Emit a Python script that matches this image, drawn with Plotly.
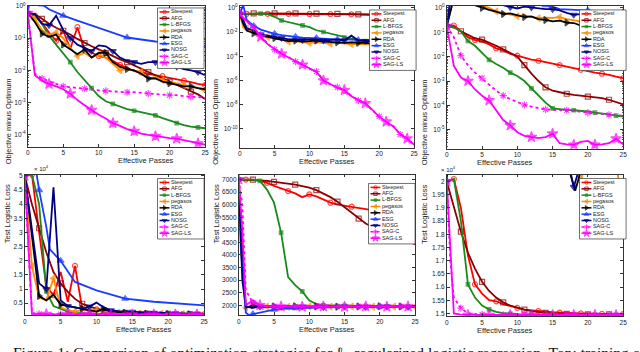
import plotly.graph_objects as go

W, H = 640, 352

NAMES = ["Steepest", "AFG", "L-BFGS", "pegasos", "RDA", "ESG", "NOSG", "SAG-C", "SAG-LS"]
COLORS = {"Steepest": "#ff0000", "AFG": "#8b0000", "L-BFGS": "#1a8a1a", "pegasos": "#ff8c00",
          "RDA": "#000000", "ESG": "#1a3cff", "NOSG": "#000080", "SAG-C": "#ff00ff", "SAG-LS": "#ff00ff"}
SYMBOLS = {"Steepest": "circle-open", "AFG": "square-open", "L-BFGS": "square", "pegasos": "triangle-left",
           "RDA": "triangle-right", "ESG": "triangle-up", "NOSG": "triangle-down", "SAG-C": "asterisk-open",
           "SAG-LS": "star"}
MSIZE = {"Steepest": 5, "AFG": 5, "L-BFGS": 3.5, "pegasos": 6, "RDA": 6, "ESG": 6, "NOSG": 6,
         "SAG-C": 6, "SAG-LS": 8}
# which whole passes carry a marker (every third one, staggered per method)
MARK_OFFSET = {"Steepest": 1, "AFG": 2, "L-BFGS": 0, "pegasos": 1, "RDA": 2, "ESG": 2, "NOSG": 0,
               "SAG-C": 2, "SAG-LS": 0}

PASSES = list(range(26))
PASSES_H = [0, 0.5] + list(range(1, 26))

# ---- top row: objective minus optimum (log scale) ----
TOP_LEFT = {
    "Steepest": (PASSES, [0.60, 0.50, 0.30, 0.15, 0.083, 0.17, 0.047, 0.22, 0.045, 0.035, 0.028, 0.025, 0.020,
                          0.015, 0.012, 0.0095, 0.0087, 0.0079, 0.0072, 0.0066, 0.0060, 0.0054, 0.0048, 0.0043,
                          0.0038, 0.0035]),
    "AFG": (PASSES, [0.60, 0.56, 0.40, 0.28, 0.21, 0.17, 0.13, 0.095, 0.071, 0.056, 0.045, 0.035, 0.028, 0.022,
                     0.018, 0.014, 0.011, 0.0089, 0.0071, 0.0056, 0.0045, 0.0035, 0.0028, 0.0022, 0.0018, 0.0013]),
    "L-BFGS": (PASSES, [0.60, 0.50, 0.28, 0.12, 0.063, 0.035, 0.018, 0.0089, 0.0050, 0.0028, 0.0016, 0.0011,
                        0.00091, 0.00076, 0.00063, 0.00056, 0.00050, 0.00045, 0.00040, 0.00033, 0.00028, 0.00023,
                        0.00020, 0.00018, 0.00017, 0.00016]),
    "pegasos": (PASSES, [0.60, 0.40, 0.18, 0.13, 0.15, 0.10, 0.050, 0.028, 0.035, 0.025, 0.032, 0.025, 0.016,
                         0.010, 0.011, 0.010, 0.0089, 0.0056, 0.0063, 0.0050, 0.0045, 0.0040, 0.0035, 0.0032,
                         0.0028, 0.0024]),
    "RDA": (PASSES, [0.60, 0.32, 0.14, 0.11, 0.13, 0.063, 0.045, 0.032, 0.045, 0.025, 0.035, 0.035, 0.018,
                     0.013, 0.011, 0.010, 0.0079, 0.0056, 0.0056, 0.0045, 0.0040, 0.0035, 0.0032, 0.0032, 0.0028,
                     0.0026]),
    "ESG": ([0, 0.5, 1, 2, 3, 5, 7, 10, 14, 18, 22, 25],
            [0.60, 3.2, 2.0, 1.12, 0.79, 0.50, 0.35, 0.21, 0.105, 0.079, 0.066, 0.055]),
    "NOSG": (PASSES, [0.60, 0.56, 0.28, 0.25, 0.50, 0.18, 0.10, 0.063, 0.050, 0.040, 0.060, 0.056, 0.040, 0.025,
                      0.020, 0.018, 0.016, 0.018, 0.018, 0.020, 0.018, 0.013, 0.011, 0.010, 0.0089, 0.0071]),
    "SAG-C": (PASSES, [0.60, 0.0079, 0.0056, 0.0045, 0.0038, 0.0032, 0.0030, 0.0028, 0.0027, 0.0025, 0.0024,
                       0.0023, 0.0022, 0.0022, 0.0021, 0.0021, 0.0020, 0.0019, 0.0019, 0.0018, 0.0017, 0.0017,
                       0.0016, 0.0015, 0.0015, 0.0014]),
    "SAG-LS": (PASSES, [0.60, 0.0071, 0.0048, 0.0038, 0.0032, 0.0026, 0.0019, 0.0012, 0.00083, 0.00059,
                        0.00042, 0.00032, 0.00023, 0.00019, 0.00015, 0.00013, 0.00011, 0.00010, 9.1e-5, 8.5e-5,
                        7.9e-5, 7.6e-5, 6.8e-5, 6.0e-5, 5.4e-5, 5.0e-5]),
}

TOP_MID = {
    "Steepest": (PASSES, [0.32, 0.32, 0.32, 0.32, 0.32, 0.32, 0.32, 0.32, 0.31, 0.31, 0.31, 0.31, 0.30, 0.30,
                          0.30, 0.29, 0.29, 0.29, 0.28, 0.28, 0.28, 0.27, 0.27, 0.27, 0.26, 0.26]),
    "AFG": (PASSES, [0.32, 0.34, 0.34, 0.34, 0.34, 0.34, 0.34, 0.34, 0.34, 0.33, 0.33, 0.33, 0.33, 0.32, 0.32,
                     0.31, 0.30, 0.29, 0.28, 0.27, 0.26, 0.25, 0.24, 0.23, 0.22, 0.21]),
    "L-BFGS": (PASSES, [0.32, 0.33, 0.33, 0.33, 0.30, 0.18, 0.089, 0.063, 0.050, 0.035, 0.025, 0.014, 0.010,
                        0.0079, 0.0056, 0.0035, 0.0028, 0.0022, 0.0018, 0.0016, 0.0014, 0.0013, 0.0011, 0.0010,
                        0.00089, 0.00079]),
    "pegasos": (PASSES_H, [0.32, 0.025, 0.020, 0.011, 0.0063, 0.0040, 0.0028, 0.0022, 0.0016, 0.0018, 0.0014,
                           0.0013, 0.0014, 0.0013, 0.0011, 0.0013, 0.0011, 0.0010, 0.0010, 0.0010, 0.00089,
                           0.00089, 0.00089, 0.00079, 0.00079, 0.00079, 0.00079]),
    "RDA": (PASSES_H, [0.32, 0.050, 0.013, 0.0079, 0.0050, 0.0040, 0.0032, 0.0025, 0.0018, 0.0020, 0.0016,
                       0.0018, 0.0020, 0.0016, 0.0016, 0.0014, 0.0013, 0.0014, 0.0013, 0.0013, 0.0011, 0.0011,
                       0.0011, 0.0010, 0.0010, 0.0010, 0.0010]),
    "ESG": (PASSES_H, [0.32, 1.6, 0.10, 0.032, 0.016, 0.010, 0.0071, 0.0056, 0.0045, 0.0040, 0.0035, 0.0032,
                       0.0032, 0.0028, 0.0028, 0.0025, 0.0025, 0.0024, 0.0022, 0.0022, 0.0021, 0.0020, 0.0020,
                       0.0019, 0.0018, 0.0017, 0.0016]),
    "NOSG": (PASSES_H, [0.32, 0.10, 0.020, 0.014, 0.0063, 0.0050, 0.0040, 0.0032, 0.0025, 0.0025, 0.0022,
                        0.0025, 0.0025, 0.0020, 0.0022, 0.0025, 0.0020, 0.0050, 0.0020, 0.0018, 0.0018, 0.0018,
                        0.0018, 0.0016, 0.0016, 0.0016, 0.0016]),
    "SAG-C": (PASSES, [0.32, 0.071, 0.022, 0.0045, 1.1e-3, 3.5e-4, 1.8e-4, 8.5e-5, 3.6e-5, 2.2e-5, 9.0e-6,
                       5.5e-6, 1.1e-6, 4.5e-7, 2.8e-7, 1.5e-7, 5.5e-8, 2.2e-8, 1.4e-8, 3.5e-9, 1.1e-9, 3.6e-10,
                       1.8e-10, 3.5e-11, 1.8e-11, 4.5e-12]),
    "SAG-LS": (PASSES, [0.32, 0.079, 0.025, 0.0040, 1.0e-3, 4.0e-4, 1.6e-4, 7.9e-5, 4.0e-5, 2.0e-5, 1.0e-5,
                        5.0e-6, 1.0e-6, 5.0e-7, 2.5e-7, 1.6e-7, 5.0e-8, 2.5e-8, 1.3e-8, 4.0e-9, 1.0e-9, 4.0e-10,
                        1.6e-10, 4.0e-11, 1.6e-11, 5.0e-12]),
}

TOP_RIGHT = {
    "Steepest": (PASSES, [0.18, 0.19, 0.11, 0.063, 0.048, 0.042, 0.032, 0.022, 0.018, 0.013, 0.011, 0.0089,
                          0.0076, 0.0068, 0.0059, 0.0050, 0.0045, 0.0040, 0.0034, 0.0029, 0.0025, 0.0022, 0.0020,
                          0.0018, 0.0015, 0.0013]),
    "AFG": (PASSES, [0.18, 0.16, 0.11, 0.079, 0.056, 0.050, 0.038, 0.028, 0.020, 0.014, 0.010, 0.0045, 0.0020,
                     0.0010, 0.00055, 0.00040, 0.00034, 0.00030, 0.00027, 0.00025, 0.00023, 0.00022, 0.00020,
                     0.00017, 0.00014, 0.00011]),
    "L-BFGS": (PASSES, [0.18, 0.16, 0.11, 0.044, 0.028, 0.014, 0.0074, 0.0050, 0.0035, 0.0022, 0.0016, 0.0010,
                        0.00050, 0.00025, 0.00013, 7.6e-5, 6.9e-5, 6.6e-5, 6.3e-5, 6.0e-5, 5.6e-5, 5.0e-5, 4.7e-5,
                        4.3e-5, 3.8e-5, 3.5e-5]),
    "pegasos": ([0, 1, 3, 5, 6, 7, 8, 9, 10, 11, 12, 13, 14, 15, 16, 17, 18, 19, 20, 21, 22, 23, 24, 25],
                [0.18, 3.2, 2.0, 1.26, 1.0, 0.72, 0.63, 0.52, 0.46, 0.50, 0.42, 0.38, 0.40, 0.39, 0.42, 0.35,
                 0.32, 0.28, 0.25, 0.22, 0.20, 0.16, 0.13, 0.11]),
    "RDA": ([0, 1, 3, 5, 6, 7, 8, 9, 10, 11, 12, 13, 14, 15, 16, 17, 18, 19, 20, 21, 22, 23, 24, 25],
            [0.18, 2.5, 1.6, 1.0, 0.83, 0.71, 0.56, 0.60, 0.50, 0.42, 0.45, 0.35, 0.32, 0.28, 0.30, 0.25, 0.24,
             0.19, 0.18, 0.20, 0.19, 0.18, 0.17, 0.16]),
    "ESG": ([0, 0.5, 2, 5, 10, 14, 15, 16, 18, 20, 22, 24, 25],
            [0.18, 2.0, 4.0, 3.2, 2.0, 1.3, 1.12, 0.89, 0.83, 0.79, 0.76, 0.69, 0.63]),
    "NOSG": ([0, 0.5, 2, 5, 8, 9, 10, 11, 12, 13, 14, 15, 16, 17, 18, 19, 20, 21, 22, 23, 24, 25],
             [0.18, 2.0, 3.2, 2.0, 1.26, 1.07, 0.95, 1.12, 1.05, 0.93, 0.89, 0.89, 0.79, 0.63, 0.52, 0.56, 0.60,
              0.52, 0.50, 0.48, 0.40, 0.33]),
    "SAG-C": (PASSES, [0.18, 0.063, 0.011, 0.0045, 0.0022, 0.0013, 7.1e-4, 4.0e-4, 2.5e-4, 1.8e-4, 1.35e-4,
                       1.05e-4, 8.9e-5, 7.6e-5, 6.8e-5, 6.6e-5, 6.3e-5, 6.3e-5, 6.0e-5, 5.6e-5, 5.0e-5, 4.8e-5,
                       4.5e-5, 4.1e-5, 4.0e-5, 3.8e-5]),
    "SAG-LS": (PASSES, [0.18, 0.0042, 0.0014, 0.0010, 4.5e-4, 2.5e-4, 1.6e-4, 6.3e-5, 2.5e-5, 1.5e-5, 7.9e-6,
                        5.6e-6, 5.0e-6, 4.5e-6, 5.0e-6, 6.9e-6, 2.8e-6, 2.5e-6, 2.4e-6, 3.2e-6, 3.5e-6, 2.4e-6,
                        2.5e-6, 2.8e-6, 4.3e-6, 2.5e-6]),
}

# ---- bottom row: test logistic loss ----
BOT_LEFT = {  # x 10^4
    "Steepest": (PASSES, [5.0, 5.05, 3.0, 1.1, 0.78, 1.6, 0.55, 1.82, 0.32, 0.22, 0.28, 0.20, 0.17, 0.15, 0.14,
                          0.13, 0.13, 0.12, 0.12, 0.12, 0.11, 0.11, 0.11, 0.11, 0.10, 0.10]),
    "AFG": (PASSES, [5.0, 4.0, 3.15, 2.3, 1.6, 1.2, 0.9, 0.65, 0.48, 0.38, 0.30, 0.25, 0.20, 0.18, 0.16, 0.15,
                     0.14, 0.13, 0.13, 0.12, 0.12, 0.12, 0.12, 0.11, 0.11, 0.11]),
    "L-BFGS": (PASSES, [5.0, 5.05, 4.0, 0.92, 0.40, 0.30, 0.20, 0.16, 0.14, 0.13, 0.12, 0.12, 0.12, 0.11, 0.11,
                        0.11, 0.11, 0.11, 0.11, 0.10, 0.10, 0.10, 0.10, 0.10, 0.10, 0.10]),
    "pegasos": (PASSES, [5.0, 1.8, 0.70, 0.60, 1.38, 0.35, 0.25, 0.20, 0.25, 0.30, 0.25, 0.20, 0.18, 0.16, 0.15,
                         0.14, 0.13, 0.13, 0.12, 0.12, 0.12, 0.12, 0.11, 0.11, 0.11, 0.11]),
    "RDA": (PASSES, [5.0, 2.8, 0.75, 0.60, 0.80, 0.45, 0.40, 0.35, 0.30, 0.25, 0.20, 0.30, 0.20, 0.18, 0.16,
                     0.15, 0.14, 0.13, 0.13, 0.12, 0.12, 0.12, 0.11, 0.11, 0.11, 0.11]),
    "ESG": ([0, 1, 1.5, 2, 3, 3.5, 5, 7, 10, 14, 18, 22, 25],
            [5.0, 5.6, 5.3, 4.5, 3.2, 2.4, 2.0, 1.25, 0.95, 0.66, 0.55, 0.47, 0.42]),
    "NOSG": (PASSES, [5.0, 3.05, 1.2, 1.0, 4.6, 0.60, 0.40, 0.35, 0.30, 0.38, 0.52, 0.35, 0.25, 0.22, 0.20, 0.19,
                      0.18, 0.17, 0.16, 0.15, 0.15, 0.14, 0.14, 0.13, 0.13, 0.12]),
    "SAG-C": (PASSES, [5.0, 0.15, 0.12, 0.11, 0.11, 0.11, 0.11, 0.10, 0.10, 0.10, 0.10, 0.10, 0.10, 0.10, 0.10,
                       0.10, 0.10, 0.10, 0.10, 0.10, 0.10, 0.10, 0.10, 0.10, 0.10, 0.10]),
    "SAG-LS": (PASSES, [5.0, 0.12, 0.11, 0.11, 0.10, 0.10, 0.10, 0.10, 0.10, 0.10, 0.10, 0.10, 0.10, 0.10, 0.10,
                        0.10, 0.10, 0.10, 0.10, 0.10, 0.10, 0.10, 0.10, 0.10, 0.10, 0.10]),
}

BOT_MID = {
    "Steepest": (PASSES, [7000, 7000, 7000, 6950, 6870, 6750, 6650, 6540, 6450, 6300, 6410, 6330, 6200, 6080,
                          6000, 5950, 5920, 5870, 5820, 5780, 5750, 5720, 5690, 5650, 5600, 5490]),
    "AFG": (PASSES, [7000, 7000, 7000, 6970, 6950, 6910, 6880, 6850, 6800, 6740, 6680, 6580, 6450, 6300, 6120,
                     5900, 5680, 5450, 5250, 5100, 4950, 4850, 4750, 4650, 4550, 4430]),
    "L-BFGS": (PASSES, [7000, 7000, 7000, 6950, 6600, 6080, 4890, 3120, 2800, 2550, 2190, 2050, 2000, 1990, 1980,
                        1980, 1970, 1970, 1970, 1970, 1960, 1960, 1960, 1960, 1960, 1960]),
    "pegasos": (PASSES_H, [7000, 4500, 1900, 1950, 1940, 1950, 1940, 1950, 1940, 1950, 1940, 1950, 1940, 1950,
                           1940, 1950, 1940, 1950, 1940, 1950, 1940, 1950, 1940, 1950, 1940, 1950, 1940]),
    "RDA": (PASSES_H, [7000, 4000, 1900, 2000, 1950, 1960, 1950, 1940, 1950, 1960, 1950, 1940, 1950, 1960, 1950,
                       1940, 1950, 1960, 1950, 1940, 1950, 1960, 1950, 1940, 1950, 1960, 1950]),
    "ESG": ([0, 0.3, 1, 1.5, 2, 3, 4, 5, 6, 8, 10, 12, 15, 20, 25],
            [7000, 4240, 1700, 1600, 1650, 1720, 1780, 1830, 1860, 1890, 1910, 1920, 1930, 1940, 1950]),
    "NOSG": (PASSES_H, [7000, 3000, 1950, 1900, 1950, 1930, 1950, 1930, 1950, 1930, 1950, 1930, 1950, 1930, 1950,
                        1930, 1950, 1930, 1950, 1930, 1950, 1930, 1950, 1930, 1950, 1930, 1950]),
    "SAG-C": (PASSES_H, [7000, 6000, 2600, 2100, 2000, 1950, 1960, 1950, 1960, 1950, 1960, 1950, 1960, 1950,
                         1960, 1950, 1960, 1950, 1960, 1950, 1960, 1950, 1960, 1950, 1960, 1950, 1960]),
    "SAG-LS": (PASSES_H, [7000, 5000, 2000, 2200, 2000, 1950, 1940, 1950, 1940, 1950, 1940, 1950, 1940, 1950,
                          1940, 1950, 1940, 1950, 1940, 1950, 1940, 1950, 1940, 1950, 1940, 1950, 1940]),
}

BOT_RIGHT = {  # x 10^4
    "Steepest": (PASSES, [2.0, 2.01, 1.9, 1.72, 1.61, 1.575, 1.55, 1.546, 1.535, 1.527, 1.521, 1.514, 1.511,
                          1.509, 1.507, 1.505, 1.503, 1.502, 1.501, 1.5, 1.499, 1.498, 1.498, 1.497, 1.497,
                          1.497]),
    "AFG": (PASSES, [2.0, 1.9, 1.81, 1.73, 1.67, 1.62, 1.585, 1.56, 1.542, 1.53, 1.521, 1.514, 1.509, 1.505,
                     1.502, 1.5, 1.499, 1.498, 1.497, 1.497, 1.496, 1.496, 1.496, 1.496, 1.496, 1.496]),
    "L-BFGS": (PASSES, [2.0, 2.01, 1.85, 1.61, 1.56, 1.53, 1.515, 1.506, 1.501, 1.498, 1.497, 1.496, 1.496,
                        1.495, 1.495, 1.495, 1.495, 1.495, 1.495, 1.495, 1.495, 1.495, 1.495, 1.495, 1.495, 1.495]),
    "pegasos": ([0, 0.5, 5, 10, 15, 18, 19, 20, 24, 25], [2.0, 2.3, 2.25, 2.2, 2.15, 2.1, 2.0, 2.12, 2.1, 1.82]),
    "RDA": ([0, 0.5, 5, 10, 15, 17.5, 18.2, 19, 22, 25], [2.0, 2.4, 2.3, 2.2, 2.1, 2.03, 1.965, 2.04, 2.1, 2.08]),
    "ESG": ([0, 0.5, 5, 10, 15, 20, 25], [2.0, 2.5, 2.4, 2.3, 2.2, 2.15, 2.1]),
    "NOSG": ([0, 0.5, 5, 10, 15, 17.5, 18, 18.8, 22, 25], [2.0, 2.4, 2.3, 2.2, 2.15, 2.04, 1.98, 2.05, 2.1, 2.1]),
    "SAG-C": (PASSES_H, [2.0, 1.7, 1.56, 1.52, 1.5, 1.497, 1.496, 1.495, 1.495, 1.495, 1.495, 1.495, 1.495,
                         1.495, 1.495, 1.495, 1.495, 1.495, 1.495, 1.495, 1.495, 1.495, 1.495, 1.495, 1.495,
                         1.495, 1.495]),
    "SAG-LS": (PASSES_H, [2.0, 1.75, 1.5, 1.495, 1.494, 1.494, 1.494, 1.494, 1.494, 1.494, 1.494, 1.494, 1.494,
                          1.494, 1.494, 1.494, 1.494, 1.494, 1.494, 1.494, 1.494, 1.494, 1.494, 1.494, 1.494,
                          1.494, 1.494]),
}

X_TICKS = [0, 5, 10, 15, 20, 25]
LOG_TICKS_A = [1, 1e-1, 1e-2, 1e-3, 1e-4]
LOG_TEXT_A = ["10<sup>0</sup>", "10<sup>-1</sup>", "10<sup>-2</sup>", "10<sup>-3</sup>", "10<sup>-4</sup>"]
LOG_TICKS_B = [1, 1e-2, 1e-4, 1e-6, 1e-8, 1e-10]
LOG_TEXT_B = ["10<sup>0</sup>", "10<sup>-2</sup>", "10<sup>-4</sup>", "10<sup>-6</sup>", "10<sup>-8</sup>",
              "10<sup>-10</sup>"]
LOG_TICKS_C = [1, 1e-1, 1e-2, 1e-3, 1e-4, 1e-5]
LOG_TEXT_C = ["10<sup>0</sup>", "10<sup>-1</sup>", "10<sup>-2</sup>", "10<sup>-3</sup>", "10<sup>-4</sup>",
              "10<sup>-5</sup>"]
LIN_TICKS_L = [0.5, 1, 1.5, 2, 2.5, 3, 3.5, 4, 4.5, 5]
LIN_TICKS_M = [2000, 2500, 3000, 3500, 4000, 4500, 5000, 5500, 6000, 6500, 7000]
LIN_TICKS_R = [1.5, 1.55, 1.6, 1.65, 1.7, 1.75, 1.8, 1.85, 1.9, 1.95, 2]

OBJ = "Objective minus Optimum"
TLL = "Test Logistic Loss"

# panel boxes in pixels (left, right, top, bottom), legend top-left corner, y-title x
PANELS = [
    dict(data=TOP_LEFT, box=(26, 205, 3, 145), log=True, yr=[-4.37, 0.0], tv=LOG_TICKS_A, tt=LOG_TEXT_A,
         minor=[-5, 0], leg=(157, 5), yt=OBJ, ytx=6, exp=None),
    dict(data=TOP_MID, box=(240, 416, 3, 146), log=True, yr=[-11.55, 0.15], tv=LOG_TICKS_B, tt=LOG_TEXT_B,
         minor=None, leg=(371, 7), yt=OBJ, ytx=216, exp=None),
    dict(data=TOP_RIGHT, box=(449, 627, 3, 147), log=True, yr=[-5.78, 0.08], tv=LOG_TICKS_C, tt=LOG_TEXT_C,
         minor=[-6, 0], leg=(583, 7), yt=OBJ, ytx=426, exp=None),
    dict(data=BOT_LEFT, box=(23, 204, 173, 315), log=False, yr=[0.07, 5.05], tv=LIN_TICKS_L, tt=None,
         minor=None, leg=(157, 177), yt=TLL, ytx=5, exp=(30, 166)),
    dict(data=BOT_MID, box=(239, 417, 173, 315), log=False, yr=[1600, 7200], tv=LIN_TICKS_M, tt=None,
         minor=None, leg=(370, 182), yt=TLL, ytx=216, exp=None),
    dict(data=BOT_RIGHT, box=(449, 627, 173, 316), log=False, yr=[1.489, 2.027], tv=LIN_TICKS_R, tt=None,
         minor=None, leg=(583, 177), yt=TLL, ytx=427, exp=(460, 167)),
]

FONT = "Liberation Sans, Arial, sans-serif"
AX = dict(showline=True, linecolor="#333333", linewidth=0.8, mirror="ticks", ticks="inside", ticklen=3,
          tickwidth=0.6, tickcolor="#333333", showgrid=False, zeroline=False,
          tickfont=dict(family=FONT, size=6.5, color="#222222"))

fig = go.Figure()
layout = dict(width=W, height=H, margin=dict(l=0, r=0, t=0, b=0), paper_bgcolor="white",
              plot_bgcolor="rgba(0,0,0,0)", showlegend=False, hovermode=False, annotations=[])


def px_x(v):
    return v / W


def px_y(v):
    return 1 - v / H


def marker_sizes(name, xs):
    return [MSIZE[name] if float(x).is_integer() and int(x) % 3 == MARK_OFFSET[name] else 0 for x in xs]


for i, p in enumerate(PANELS):
    n = "" if i == 0 else str(i + 1)
    x0, x1, y0, y1 = p["box"]
    xa = dict(AX, domain=[px_x(x0), px_x(x1)], range=[0, 25], tickvals=X_TICKS, anchor="y" + n)
    ya = dict(AX, domain=[px_y(y1), px_y(y0)], range=p["yr"], tickvals=p["tv"], anchor="x" + n)
    if p["log"]:
        ya["type"] = "log"
        ya["ticktext"] = p["tt"]
        if p["minor"]:
            lo, hi = p["minor"]
            ya["minor"] = dict(tickvals=[m * 10.0 ** e for e in range(lo, hi) for m in range(2, 10)],
                               ticks="inside", ticklen=1.5, tickcolor="#555555", tickwidth=0.5)
    layout["xaxis" + n] = xa
    layout["yaxis" + n] = ya
    for name in NAMES:
        xs, ys = p["data"][name]
        fig.add_trace(go.Scatter(
            x=xs, y=ys, xaxis="x" + n, yaxis="y" + n, mode="lines+markers", name=name,
            line=dict(color=COLORS[name], width=1.8, dash="dot" if name == "SAG-C" else "solid"),
            marker=dict(symbol=SYMBOLS[name], size=marker_sizes(name, xs), color=COLORS[name],
                        line=dict(color=COLORS[name], width=1.2)),
            hoverinfo="skip"))
    # axis titles
    layout["annotations"].append(dict(
        text="Effective Passes", x=px_x((x0 + x1) / 2), y=px_y(y1 + 14), xref="paper", yref="paper",
        showarrow=False, font=dict(family=FONT, size=7.5, color="#222222"), yanchor="middle"))
    layout["annotations"].append(dict(
        text=p["yt"], x=px_x(p["ytx"]), y=px_y((y0 + y1) / 2), xref="paper", yref="paper", textangle=-90,
        showarrow=False, font=dict(family=FONT, size=7.5, color="#222222"), xanchor="center"))
    if p["exp"]:
        ex, ey = p["exp"]
        layout["annotations"].append(dict(
            text="× 10<sup>4</sup>", x=px_x(ex), y=px_y(ey), xref="paper", yref="paper", showarrow=False,
            font=dict(family=FONT, size=6, color="#222222")))

# ---- custom compact legends on a pixel overlay axis ----
LEG_W, LEG_H, PITCH = 47, 61, 6.4
layout["xaxis7"] = dict(domain=[0, 1], range=[0, W], visible=False, anchor="y7", fixedrange=True)
layout["yaxis7"] = dict(domain=[0, 1], range=[H, 0], visible=False, anchor="x7", fixedrange=True)

bx, by = [], []
for p in PANELS:
    lx, ly = p["leg"]
    bx += [lx, lx + LEG_W, lx + LEG_W, lx, lx, None]
    by += [ly, ly, ly + LEG_H, ly + LEG_H, ly, None]
fig.add_trace(go.Scatter(x=bx, y=by, xaxis="x7", yaxis="y7", mode="lines", fill="toself",
                         fillcolor="white", line=dict(color="#333333", width=0.7), hoverinfo="skip"))

tx, ty, tt = [], [], []
for k, name in enumerate(NAMES):
    sx, sy, ss = [], [], []
    for p in PANELS:
        lx, ly = p["leg"]
        yy = ly + 4 + k * PITCH
        sx += [lx + 2, lx + 7, lx + 12, None]
        sy += [yy, yy, yy, None]
        ss += [0, MSIZE[name] * 0.7, 0, 0]
        tx.append(lx + 13.5)
        ty.append(yy)
        tt.append(name)
    fig.add_trace(go.Scatter(
        x=sx, y=sy, xaxis="x7", yaxis="y7", mode="lines+markers",
        line=dict(color=COLORS[name], width=1.5, dash="dot" if name == "SAG-C" else "solid"),
        marker=dict(symbol=SYMBOLS[name], size=ss, color=COLORS[name], line=dict(color=COLORS[name], width=1)),
        hoverinfo="skip"))
fig.add_trace(go.Scatter(x=tx, y=ty, xaxis="x7", yaxis="y7", mode="text", text=tt, textposition="middle right",
                         textfont=dict(family=FONT, size=5.5, color="#222222"), hoverinfo="skip"))

# caption, cut off by the bottom edge of the image
layout["annotations"].append(dict(
    text="Figure 1: Comparison of optimization strategies for ℓ<sub>2</sub>-regularized logistic regression. "
         "Top: training objective",
    x=px_x(9), y=px_y(342), xref="paper", yref="paper", xanchor="left", yanchor="top", showarrow=False,
    font=dict(family="Liberation Serif, DejaVu Serif, serif", size=15.5, color="#111111")))

fig.update_layout(**layout)
# the page's default body margin would shift the whole figure by 8px
fig.write_html("out.html", config={"displayModeBar": False},
               post_script="document.body.style.margin='0';")
